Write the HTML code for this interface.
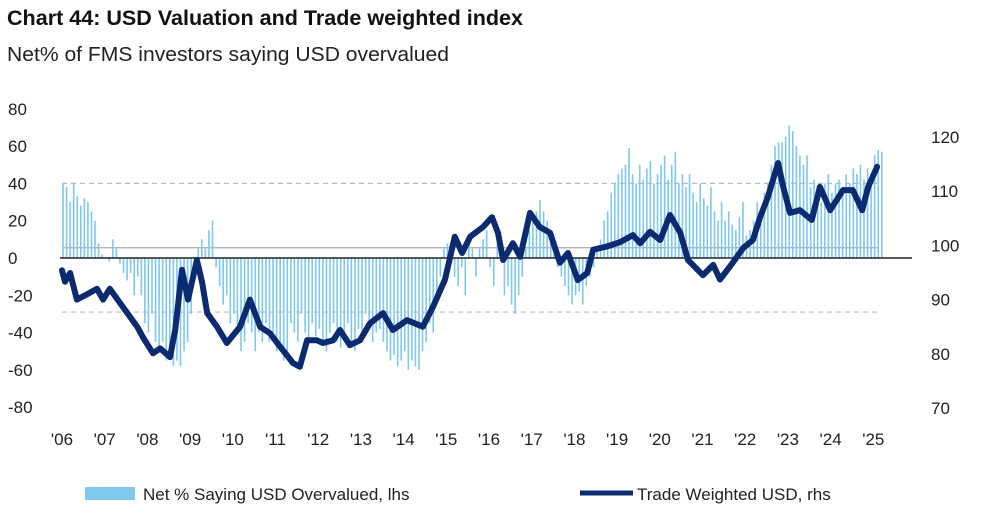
<!DOCTYPE html>
<html><head><meta charset="utf-8"><style>
body{margin:0;background:#fff;width:991px;height:519px;overflow:hidden;font-family:"Liberation Sans",sans-serif}
svg{display:block}
</style></head><body>
<svg id="chart" width="991" height="519">
<text x="7" y="25" font-size="21" font-weight="bold" fill="#111" textLength="516" lengthAdjust="spacingAndGlyphs">Chart 44: USD Valuation and Trade weighted index</text>
<text x="7" y="61" font-size="20" fill="#222" textLength="442" lengthAdjust="spacingAndGlyphs">Net% of FMS investors saying USD overvalued</text>
<g id="grid"></g><g id="bars"></g><g id="axes"></g><g id="line"></g>
<g>
<rect x="85" y="487" width="50" height="13" fill="#7fc8ee"/>
<text x="143" y="500" font-size="17" fill="#222">Net % Saying USD Overvalued, lhs</text>
<line x1="580" y1="493" x2="633" y2="493" stroke="#0b2a6f" stroke-width="5"/>
<text x="637" y="500" font-size="17" fill="#222">Trade Weighted USD, rhs</text>
</g>
</svg>
<script>
const leftTicks=[80,60,40,20,0,-20,-40,-60,-80];
const rightTicks=[120,110,100,90,80,70];
const yearLabels=["'06","'07","'08","'09","'10","'11","'12","'13","'14","'15","'16","'17","'18","'19","'20","'21","'22","'23","'24","'25"];
const netOvervalued=[40,38,30,40,33,28,32,30,25,20,8,2,0,-2,10,5,-3,-8,-12,-8,-20,-10,-20,-35,-40,-30,-45,-50,-45,-55,-50,-58,-55,-58,-50,-45,-30,-10,5,10,5,15,20,-5,-15,-25,-20,-35,-30,-40,-50,-45,-35,-40,-50,-40,-45,-35,-45,-40,-50,-45,-55,-50,-35,-40,-45,-30,-40,-45,-35,-42,-38,-45,-50,-40,-35,-45,-48,-40,-35,-45,-50,-38,-42,-30,-35,-45,-40,-38,-45,-50,-55,-52,-58,-55,-50,-60,-55,-58,-60,-50,-45,-35,-40,-20,-10,5,8,2,-10,-15,-5,-20,10,5,-10,5,10,15,-5,-15,8,12,-20,-15,-25,-30,-20,-10,5,15,20,25,31,25,20,10,5,-5,-10,-15,-20,-25,-20,-18,-25,-15,-10,-5,5,10,20,25,35,40,45,48,50,59,45,40,50,42,48,52,40,45,50,55,42,50,57,40,45,38,45,35,30,40,32,28,38,25,20,30,20,25,18,15,22,30,12,15,20,30,25,35,40,50,60,62,62,65,71,68,60,55,50,55,38,42,35,30,40,45,35,40,42,38,45,40,48,45,50,42,48,45,55,58,57];
const twiDates=[2006.00,2006.07,2006.19,2006.35,2006.59,2006.82,2006.96,2007.12,2007.43,2007.76,2007.90,2008.13,2008.30,2008.53,2008.65,2008.81,2008.95,2009.16,2009.28,2009.40,2009.63,2009.86,2010.17,2010.40,2010.64,2010.87,2011.11,2011.41,2011.57,2011.74,2011.97,2012.11,2012.35,2012.51,2012.74,2012.98,2013.21,2013.52,2013.75,2014.08,2014.45,2014.69,2014.97,2015.20,2015.37,2015.56,2015.86,2016.07,2016.21,2016.33,2016.56,2016.73,2016.96,2017.19,2017.43,2017.66,2017.85,2018.08,2018.30,2018.44,2018.76,2019.07,2019.37,2019.54,2019.77,2020.01,2020.24,2020.48,2020.66,2021.01,2021.25,2021.41,2021.71,2021.95,2022.18,2022.35,2022.53,2022.77,2022.89,2023.05,2023.28,2023.56,2023.75,2023.99,2024.29,2024.52,2024.74,2024.88,2025.09];
const twiValues=[95.4,93.3,94.9,90,91,92,90,92,88.6,85,83,80.1,81,79.4,84.4,95.5,90,97.3,93.2,87.5,85,82,85,90,85,83.8,81.3,78.3,77.6,82.5,82.5,82,82.5,84.4,81.6,82.5,85.6,87.5,84.4,86.2,85,88.7,93.7,101.6,98.6,101.6,103.4,105.2,102.3,97.3,100.4,97.9,106,103.4,102.3,96.8,98.6,93.6,94.9,99.2,99.8,100.6,101.9,100.4,102.5,101,105.6,102.3,97.3,94.5,96.4,93.7,96.8,99.5,101,105.2,108.9,115.2,110.8,106,106.5,104.7,110.8,106.5,110.2,110.2,106.5,110.8,114.5];
const NS="http://www.w3.org/2000/svg";
const yL=v=>258-v*1.865, yR=v=>137+(120-v)*5.42, xT=t=>62+(t-2006)*42.7, xM=m=>63+m*3.56;
function mk(tag,attrs,parent){const e=document.createElementNS(NS,tag);for(const k in attrs)e.setAttribute(k,attrs[k]);parent.appendChild(e);return e;}
const grid=document.getElementById('grid'),axes=document.getElementById('axes'),bars=document.getElementById('bars'),line=document.getElementById('line');
let g=mk('line',{x1:62,x2:878,y1:yL(40),y2:yL(40),stroke:'#bbb','stroke-width':1.2,'stroke-dasharray':'5,4'},grid);

g=mk('line',{x1:62,x2:878,y1:yL(-29),y2:yL(-29),stroke:'#bbb','stroke-width':1.2,'stroke-dasharray':'5,4'},grid);

netOvervalued.forEach((v,i)=>{const y0=yL(0),y1=yL(v);
 const b=mk('rect',{x:xM(i)-0.8,y:Math.min(y0,y1),width:1.6,height:Math.abs(y1-y0),fill:'#7fc8ee'},bars);
 });
g=mk('line',{x1:62,x2:878,y1:yL(5.5),y2:yL(5.5),stroke:'#aaa','stroke-width':1.3},grid);

g=mk('line',{x1:60,x2:912,y1:yL(0),y2:yL(0),stroke:'#222','stroke-width':1.6},axes);

leftTicks.forEach(v=>{const t=mk('text',{x:8,y:yL(v)+6,'font-size':17,fill:'#222'},axes);t.textContent=v;
 });
rightTicks.forEach(v=>{const t=mk('text',{x:931,y:yR(v)+6,'font-size':17,fill:'#222'},axes);t.textContent=v;
 });
yearLabels.forEach((s,i)=>{const t=mk('text',{x:xT(2006+i),y:445,'font-size':17,fill:'#222','text-anchor':'middle'},axes);t.textContent=s;
 });
const d=twiDates.map((t,i)=>(i?'L':'M')+xT(t).toFixed(1)+','+yR(twiValues[i]).toFixed(1)).join('');
const p=mk('path',{d:d,fill:'none',stroke:'#0b2a6f','stroke-width':6,'stroke-linejoin':'round','stroke-linecap':'round'},line);


</script>
</body></html>
